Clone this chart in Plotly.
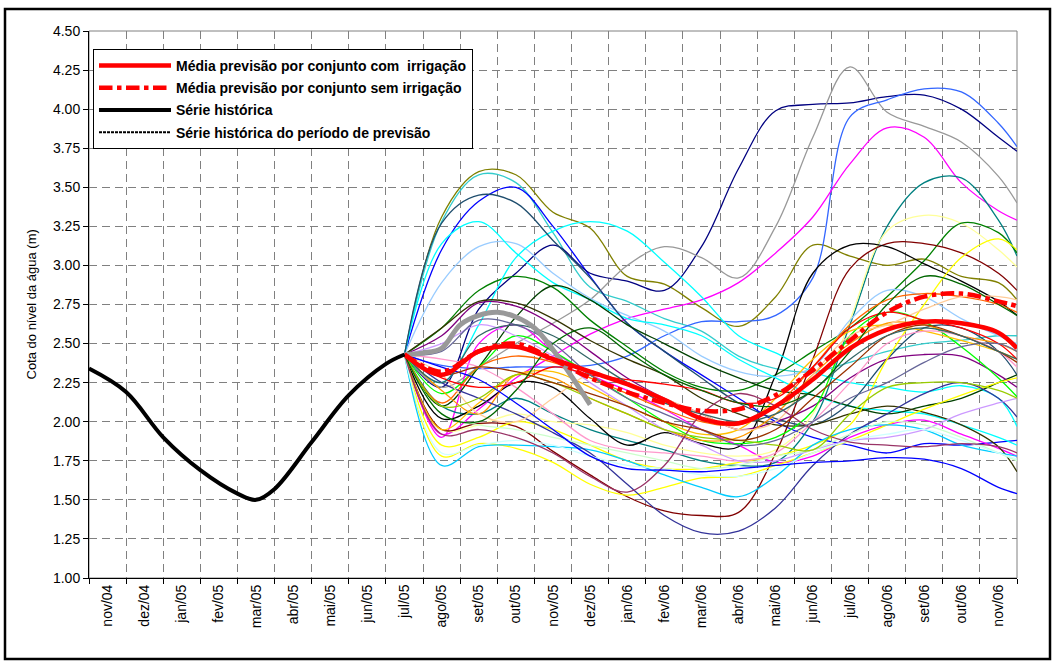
import plotly.graph_objects as go

# ---------------- data ----------------
MONTH_LABELS = ["nov/04", "dez/04", "jan/05", "fev/05", "mar/05", "abr/05", "mai/05", "jun/05",
                "jul/05", "ago/05", "set/05", "out/05", "nov/05", "dez/05", "jan/06", "fev/06",
                "mar/06", "abr/06", "mai/06", "jun/06", "jul/06", "ago/06", "set/06", "out/06", "nov/06"]

# observed series (x in month index units, 0 = start of nov/04)
X_HIST = [0, 1, 2, 3, 4, 4.5, 5, 6, 7, 8, 8.5]
Y_HIST = [2.34, 2.19, 1.90, 1.69, 1.54, 1.50, 1.57, 1.87, 2.17, 2.37, 2.43]

X_OBS = [8.5, 9.0, 9.5, 10.0, 10.5, 11.0, 11.5, 12.0, 12.5, 13.0, 13.5]
Y_OBS = [2.43, 2.44, 2.47, 2.62, 2.68, 2.70, 2.67, 2.60, 2.46, 2.29, 2.11]

# forecast x positions (month centres from jul/05 to nov/06, plus the right edge)
X_FC = [8.5, 9.5, 10.5, 11.5, 12.5, 13.5, 14.5, 15.5, 16.5, 17.5, 18.5, 19.5, 20.5, 21.5, 22.5, 23.5, 24.5, 25.0]

mean_com = [2.43, 2.30, 2.45, 2.48, 2.40, 2.32, 2.24, 2.14, 2.02, 1.99, 2.10, 2.27, 2.47, 2.59, 2.64, 2.63, 2.57, 2.47]
mean_sem = [2.43, 2.32, 2.45, 2.50, 2.40, 2.28, 2.19, 2.12, 2.07, 2.08, 2.17, 2.33, 2.52, 2.70, 2.80, 2.82, 2.77, 2.74]

m_olive = [2.43, 3.31, 3.60, 3.58, 3.34, 3.24, 2.93, 2.88, 2.73, 2.61, 2.80, 3.13, 3.06, 3.00, 3.04, 2.93, 2.89, 2.78]
m_seagreen = [2.43, 3.28, 3.58, 3.53, 3.21, 2.86, 2.77, 2.66, 2.58, 2.42, 2.34, 2.32, 2.38, 2.45, 2.50, 2.52, 2.55, 2.55]
m_blue = [2.43, 3.10, 3.41, 3.50, 3.25, 2.93, 2.63, 2.45, 2.30, 2.15, 2.00, 1.90, 1.85, 1.80, 1.86, 1.85, 1.87, 1.88]
m_navy = [2.43, 2.22, 2.72, 2.95, 3.13, 2.95, 2.90, 2.84, 3.12, 3.62, 3.99, 4.03, 4.04, 4.08, 4.09, 4.00, 3.82, 3.73]
m_gray = [2.43, 2.22, 2.35, 2.50, 2.63, 2.78, 3.00, 3.12, 3.05, 2.92, 3.25, 3.82, 4.27, 3.98, 3.89, 3.79, 3.57, 3.40]
m_cornflower = [2.43, 2.36, 2.34, 2.35, 2.35, 2.36, 2.42, 2.55, 2.64, 2.64, 2.68, 2.92, 3.95, 4.06, 4.13, 4.11, 3.91, 3.76]
m_magenta_hi = [2.43, 1.92, 2.08, 2.28, 2.42, 2.56, 2.66, 2.72, 2.78, 2.89, 3.08, 3.31, 3.65, 3.88, 3.82, 3.53, 3.35, 3.29]
m_magenta_lo = [2.43, 1.90, 2.50, 2.62, 2.45, 2.30, 2.20, 2.08, 1.95, 1.85, 1.74, 1.78, 1.90, 1.98, 2.01, 1.92, 1.83, 1.78]
m_teal = [2.43, 2.10, 2.05, 2.15, 2.05, 1.95, 1.88, 1.82, 1.75, 1.72, 1.74, 2.00, 2.62, 3.25, 3.53, 3.56, 3.29, 3.06]
m_lightyellow = [2.43, 1.95, 1.98, 2.05, 2.00, 1.98, 1.93, 1.85, 1.80, 1.78, 1.82, 2.05, 2.65, 3.22, 3.32, 3.27, 3.10, 2.99]
m_green = [2.43, 2.60, 2.84, 2.93, 2.86, 2.65, 2.48, 2.32, 2.22, 2.20, 2.30, 2.45, 2.60, 2.80, 3.03, 3.27, 3.21, 3.08]
m_maroon_lo = [2.43, 1.95, 1.99, 1.97, 1.81, 1.66, 1.52, 1.43, 1.40, 1.42, 1.80, 2.40, 2.98, 3.14, 3.14, 3.08, 2.95, 2.84]
m_black = [2.43, 2.02, 2.10, 2.25, 2.22, 2.02, 1.85, 1.93, 1.86, 1.84, 2.30, 2.95, 3.13, 3.12, 3.01, 2.90, 2.77, 2.68]
m_skyblue = [2.43, 2.89, 3.12, 3.14, 2.95, 2.79, 2.68, 2.58, 2.42, 2.32, 2.29, 2.35, 2.65, 2.84, 2.80, 2.66, 2.55, 2.50]
m_cyan_a = [2.43, 3.14, 3.28, 3.08, 2.89, 2.78, 2.66, 2.62, 2.55, 2.40, 2.28, 2.17, 2.10, 2.07, 2.05, 1.98, 1.90, 1.85]
m_cyan_b = [2.43, 2.25, 2.62, 3.05, 3.22, 3.28, 3.22, 3.02, 2.80, 2.55, 2.44, 2.32, 2.25, 2.22, 2.19, 2.23, 2.15, 1.97]
m_darkslate = [2.43, 3.27, 3.45, 3.40, 3.16, 2.92, 2.63, 2.45, 2.28, 2.12, 2.02, 1.98, 2.12, 2.40, 2.60, 2.60, 2.45, 2.30]
m_darkgreen = [2.43, 2.10, 2.35, 2.67, 2.87, 2.78, 2.62, 2.50, 2.38, 2.28, 2.20, 2.17, 2.10, 2.05, 2.10, 2.15, 2.25, 2.30]
m_purple = [2.43, 2.55, 2.76, 2.74, 2.62, 2.45, 2.28, 2.15, 2.05, 1.95, 2.00, 2.10, 2.28, 2.40, 2.43, 2.42, 2.30, 2.22]
m_darkolive = [2.43, 2.60, 2.77, 2.76, 2.66, 2.52, 2.40, 2.30, 2.15, 2.05, 1.98, 1.98, 2.05, 2.10, 2.06, 1.98, 1.84, 1.68]
m_lime = [2.43, 2.18, 2.35, 2.55, 2.45, 2.30, 2.15, 2.00, 1.88, 1.86, 1.90, 2.07, 2.55, 2.70, 2.64, 2.48, 2.28, 2.16]
m_orange = [2.43, 2.12, 2.35, 2.42, 2.38, 2.28, 2.18, 2.08, 2.00, 1.98, 2.10, 2.35, 2.62, 2.78, 2.82, 2.80, 2.75, 2.70]
m_orange2 = [2.43, 2.20, 2.05, 2.30, 2.28, 2.15, 2.05, 1.95, 1.88, 1.90, 2.05, 2.30, 2.50, 2.63, 2.62, 2.55, 2.50, 2.45]
m_yellow = [2.43, 1.78, 1.86, 1.83, 1.74, 1.60, 1.53, 1.58, 1.64, 1.65, 1.72, 1.80, 1.88, 1.98, 2.08, 2.17, 2.25, 2.28]
m_yellow2 = [2.43, 1.85, 1.90, 2.00, 1.95, 1.85, 1.75, 1.70, 1.70, 1.74, 1.78, 1.85, 1.98, 2.40, 2.75, 3.05, 3.17, 3.10]
m_gold = [2.43, 1.95, 2.12, 2.30, 2.32, 2.22, 2.10, 2.00, 1.92, 1.95, 2.15, 2.40, 2.58, 2.62, 2.58, 2.52, 2.45, 2.40]
m_deepsky = [2.43, 1.72, 1.84, 1.85, 1.84, 1.82, 1.75, 1.66, 1.58, 1.52, 1.65, 1.85, 1.95, 1.98, 1.95, 1.85, 1.80, 1.78]
m_slate = [2.43, 2.25, 2.15, 2.05, 1.93, 1.80, 1.60, 1.40, 1.29, 1.30, 1.45, 1.72, 1.92, 2.05, 2.18, 2.25, 2.15, 2.03]
m_pink = [2.43, 2.40, 2.35, 2.22, 2.05, 1.88, 1.82, 1.80, 1.78, 1.75, 1.80, 2.00, 2.25, 2.50, 2.58, 2.55, 2.45, 2.35]
m_peach = [2.43, 2.30, 2.05, 2.00, 2.15, 2.30, 2.25, 2.15, 2.05, 1.95, 2.00, 2.30, 2.55, 2.62, 2.72, 2.80, 2.80, 2.78]
m_lavender = [2.43, 2.50, 2.62, 2.55, 2.42, 2.25, 2.10, 1.95, 1.85, 1.75, 1.75, 1.82, 1.88, 1.90, 1.95, 2.05, 2.12, 2.15]
m_lightgreen = [2.43, 2.05, 1.98, 1.95, 1.90, 1.85, 1.80, 1.75, 1.70, 1.72, 1.78, 1.82, 1.92, 2.00, 1.98, 1.90, 1.80, 1.75]
m_lightcyan = [2.43, 1.80, 1.85, 1.88, 1.85, 1.78, 1.72, 1.70, 1.66, 1.65, 1.70, 1.80, 1.88, 1.92, 1.95, 1.88, 1.80, 1.76]
m_red = [2.43, 2.28, 2.22, 2.25, 2.35, 2.30, 2.27, 2.24, 2.20, 2.12, 2.15, 2.35, 2.60, 2.70, 2.65, 2.60, 2.50, 2.40]
m_plum = [2.43, 1.92, 1.95, 1.90, 1.80, 1.65, 1.55, 1.72, 2.05, 2.18, 2.10, 1.95, 1.87, 1.85, 1.84, 1.86, 1.84, 1.80]
m_yellowgreen = [2.43, 2.10, 2.15, 2.30, 2.25, 2.15, 2.05, 1.95, 1.90, 1.88, 1.85, 1.82, 2.05, 2.22, 2.25, 2.25, 2.20, 2.15]
m_slategray = [2.43, 2.45, 2.65, 2.62, 2.50, 2.30, 2.15, 2.05, 1.95, 1.85, 1.88, 2.00, 2.15, 2.25, 2.38, 2.48, 2.50, 2.45]
m_bluelow = [2.43, 2.35, 2.27, 2.12, 1.95, 1.78, 1.70, 1.69, 1.68, 1.70, 1.72, 1.74, 1.75, 1.77, 1.76, 1.70, 1.58, 1.54]
m_brown = [2.43, 2.30, 2.35, 2.32, 2.25, 2.18, 2.10, 2.00, 1.95, 1.88, 1.95, 2.15, 2.35, 2.55, 2.62, 2.55, 2.45, 2.38]
m_darkteal = [2.43, 2.25, 2.55, 2.62, 2.55, 2.40, 2.25, 2.12, 2.05, 2.00, 2.05, 2.20, 2.40, 2.55, 2.60, 2.55, 2.45, 2.40]
m_darkgreen2 = [2.43, 2.05, 2.00, 2.20, 2.50, 2.60, 2.45, 2.30, 2.20, 2.12, 2.10, 2.20, 2.45, 2.75, 2.93, 2.88, 2.75, 2.68]

MEMBERS = [
    (m_olive, "#808000"), (m_seagreen, "#33CCCC"), (m_blue, "#0000FF"), (m_navy, "#000080"),
    (m_gray, "#999999"), (m_cornflower, "#3366FF"), (m_magenta_hi, "#FF00FF"), (m_magenta_lo, "#FF00FF"),
    (m_teal, "#008080"), (m_lightyellow, "#FFFF99"), (m_green, "#008000"), (m_maroon_lo, "#800000"),
    (m_black, "#000000"), (m_skyblue, "#99CCFF"), (m_cyan_a, "#00FFFF"), (m_cyan_b, "#00FFFF"),
    (m_darkslate, "#1F4E6E"), (m_darkgreen, "#004000"), (m_purple, "#800080"), (m_darkolive, "#333300"),
    (m_lime, "#00FF00"), (m_orange, "#FF6600"), (m_orange2, "#FF9900"), (m_yellow, "#FFFF00"),
    (m_yellow2, "#FFFF00"), (m_gold, "#FFC000"), (m_deepsky, "#00CCFF"), (m_slate, "#333399"),
    (m_pink, "#FF99CC"), (m_peach, "#FFCC99"), (m_lavender, "#CC99FF"), (m_lightgreen, "#CCFFCC"),
    (m_lightcyan, "#CCFFFF"), (m_red, "#FF0000"), (m_plum, "#993366"), (m_yellowgreen, "#99CC00"),
    (m_slategray, "#666699"), (m_bluelow, "#0000FF"), (m_brown, "#993300"), (m_darkteal, "#336666"),
    (m_darkgreen2, "#006600"),
]

# ---------------- figure ----------------
W, H = 1055, 662
L, R, T, B = 89, 1017, 31, 578  # plot area in pixels

fig = go.Figure()

for vals, col in MEMBERS:
    fig.add_trace(go.Scatter(x=X_FC, y=vals, mode="lines", line=dict(color=col, width=1.3, shape="spline"),
                             showlegend=False, hoverinfo="skip"))

fig.add_trace(go.Scatter(x=X_OBS, y=Y_OBS, mode="lines", line=dict(color="#999999", width=5, shape="spline"),
                         showlegend=False, hoverinfo="skip"))

fig.add_trace(go.Scatter(x=X_FC, y=mean_sem, mode="lines", name="Média previsão por conjunto sem irrigação",
                         line=dict(color="#FF0000", width=4.5, shape="spline", dash="dashdot"),
                         legendgroup="b", legendrank=2))
fig.add_trace(go.Scatter(x=X_FC, y=mean_com, mode="lines", name="Média previsão por conjunto com  irrigação",
                         line=dict(color="#FF0000", width=4.5, shape="spline"),
                         legendgroup="a", legendrank=1))
fig.add_trace(go.Scatter(x=X_HIST, y=Y_HIST, mode="lines", name="Série histórica",
                         line=dict(color="#000000", width=4, shape="spline"),
                         legendgroup="c", legendrank=3))
fig.add_trace(go.Scatter(x=[None], y=[None], mode="lines", name="Série histórica do período de previsão",
                         line=dict(color="#000000", width=2, dash="3px,1px"),
                         legendgroup="d", legendrank=4))

pw, ph = R - L, B - T


def px_x(p):
    return (p - L) / pw


def px_y(p):
    return 1 - (p - T) / ph


fig.update_layout(
    width=W, height=H,
    margin=dict(l=L, r=W - R, t=T, b=H - B, pad=0),
    paper_bgcolor="white", plot_bgcolor="white",
    font=dict(family="Liberation Sans, Arial, sans-serif", size=14, color="black"),
    showlegend=True,
    legend=dict(x=px_x(93), y=px_y(49), xanchor="left", yanchor="top",
                bgcolor="white", bordercolor="black", borderwidth=1,
                font=dict(size=14, weight="bold", family="Liberation Sans, Arial, sans-serif"),
                traceorder="grouped", tracegroupgap=1, itemwidth=72),
    xaxis=dict(range=[0, 25], tickmode="array", tickvals=[i + 0.5 for i in range(25)], ticktext=MONTH_LABELS,
               ticks="", showgrid=False, showline=True, linecolor="black", linewidth=1,
               tickangle=-90, tickfont=dict(size=14), zeroline=False, fixedrange=True,
               minor=dict(tickmode="array", tickvals=list(range(26)), ticks="outside", ticklen=5,
                          tickcolor="black", showgrid=True, gridcolor="#808080", gridwidth=1,
                          griddash="8px,5px")),
    yaxis=dict(range=[1, 4.5], tickmode="linear", tick0=1, dtick=0.25, tickformat=".2f",
               ticks="outside", ticklen=5, tickcolor="black", showline=True, linecolor="black",
               linewidth=1, showgrid=True, gridcolor="#808080", gridwidth=1, griddash="8px,5px",
               zeroline=False, tickfont=dict(size=14), fixedrange=True),
    shapes=[
        dict(type="rect", xref="paper", yref="paper", x0=0, x1=1, y0=0, y1=1,
             line=dict(color="#808080", width=1), layer="below"),
        dict(type="rect", xref="paper", yref="paper", x0=px_x(5), x1=px_x(1050), y0=px_y(659), y1=px_y(9),
             line=dict(color="black", width=2.5), fillcolor="rgba(0,0,0,0)"),
    ],
    annotations=[
        dict(text="Cota do nível da água (m)", xref="paper", yref="paper", x=px_x(31), y=0.5,
             textangle=-90, showarrow=False, font=dict(size=13), xanchor="center", yanchor="middle"),
    ],
)

fig.write_html("out.html", config={"displayModeBar": False},
               post_script="document.body.style.margin='0px';document.body.style.overflow='hidden';")
